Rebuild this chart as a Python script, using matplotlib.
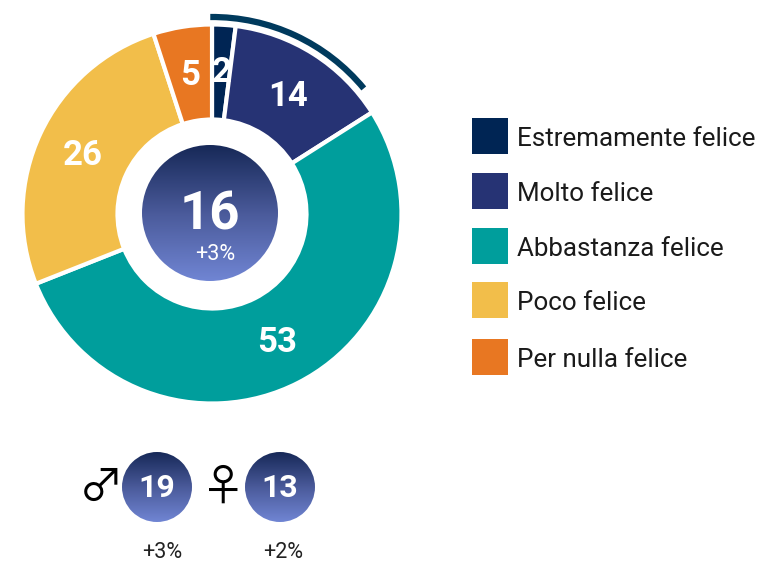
import numpy as np
import matplotlib
matplotlib.use("Agg")
import matplotlib.pyplot as plt
from matplotlib.colors import LinearSegmentedColormap
from matplotlib.patches import Arc, Circle, Rectangle

# data
categories = ["Estremamente felice", "Molto felice", "Abbastanza felice", "Poco felice", "Per nulla felice"]
values = [2, 14, 53, 26, 5]
colors = ["#002554", "#263374", "#009E9C", "#F2BE4A", "#E87722"]
total_label = "16"
total_change = "+3%"
arc_share = 14
gender_symbols = ["\u2642", "\u2640"]
gender_values = ["19", "13"]
gender_changes = ["+3%", "+2%"]

W, H = 761, 561
plt.rcParams["font.family"] = ["Roboto", "DejaVu Sans"]
narrow = ["Liberation Sans Narrow", "Roboto"]
grad = LinearSegmentedColormap.from_list("grad", ["#172958", "#4A5A9A", "#7085D3"])

fig = plt.figure(figsize=(W / 100, H / 100), dpi=100)
ax = fig.add_axes([0, 0, 1, 1])


def yy(y):
    # picture y (from the top) to axes y
    return H - y


def gradient_circle(x, y, r):
    g = np.linspace(0, 1, 128).reshape(-1, 1)
    im = ax.imshow(g, cmap=grad, extent=[x - r, x + r, yy(y + r), yy(y - r)], aspect="auto", zorder=3)
    im.set_clip_path(Circle((x, yy(y)), r, transform=ax.transData))


# donut
cx, cy, r_out, r_in = 212, 214, 189.5, 94.5
ax.pie(values, colors=colors, startangle=90, counterclock=False, center=(cx, yy(cy)), radius=r_out,
       wedgeprops=dict(width=r_out - r_in, edgecolor="white", linewidth=3))

# slice labels
label_pos = [(222, 72), (288, 96), (277, 343), (83, 155), (190, 75)]
for v, (x, y) in zip(values, label_pos):
    ax.text(x, yy(y), str(v), color="white", fontsize=25, fontweight="bold", family=narrow,
            ha="center", va="center", zorder=4)

# arc above first slices
ax.add_patch(Arc((cx, yy(cy)), 2 * 197, 2 * 197, theta1=90 - arc_share * 3.6, theta2=90.5,
                 color="#003A5D", lw=4.5, capstyle="butt", zorder=2))

# centre circle
gradient_circle(210, 213, 68)
ax.text(210, yy(215), total_label, color="white", fontsize=38, fontweight="bold", family=narrow,
        ha="center", va="center", zorder=4)
ax.text(215, yy(254), total_change, color="white", fontsize=15.5, ha="center", va="center", zorder=4)

# gender circles
for sym, val, chg, x, sx, tx in zip(gender_symbols, gender_values, gender_changes, [157, 280], [101, 223], [162, 283]):
    gradient_circle(x, 487, 35)
    ax.text(x, yy(488), val, color="white", fontsize=23, fontweight="bold", family=narrow,
            ha="center", va="center", zorder=4)
    ax.text(sx, yy(488), sym, color="black", fontsize=32, family=["Noto Sans CJK JP", "DejaVu Sans"],
            ha="center", va="center", zorder=4)
    ax.text(tx, yy(552), chg, color="#222222", fontsize=15.5, ha="center", va="center")

# legend
legend_y = [136, 191, 246, 300, 357]
for name, col, y in zip(categories, colors, legend_y):
    ax.add_patch(Rectangle((472, yy(y + 18)), 36, 36, facecolor=col, edgecolor="none"))
    ax.text(517, yy(y + 3), name, color="#1a1a1a", fontsize=18.7, ha="left", va="center")

ax.set_xlim(0, W)
ax.set_ylim(0, H)
ax.set_aspect("auto")
ax.axis("off")

fig.savefig("out.png", dpi=100)
